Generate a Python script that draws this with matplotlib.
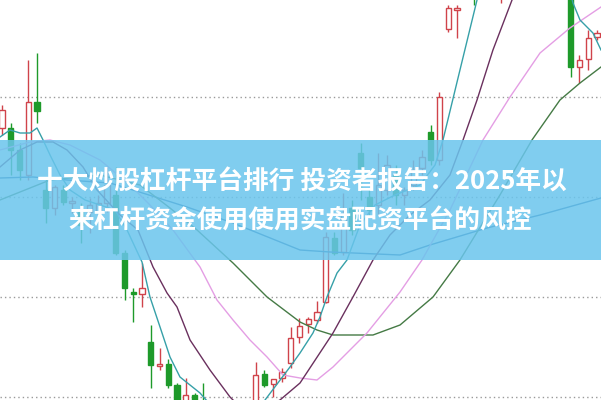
import matplotlib
matplotlib.use("Agg")
import matplotlib.pyplot as plt
import numpy as np
from matplotlib.patches import Rectangle

# ---- candle data (price units) ----
opens = [12.69, 12.69, 12.47, 12.22, 12.95, 12.07, 11.89, 12.07, 11.94, 11.85,
         11.85, 11.85, 11.94, 12.02, 11.44, 11.05, 11.03, 10.55, 10.31, 10.33,
         10.12, 9.77, 10.02, 9.89, 9.67, 9.47, 9.57, 9.42, 9.57, 9.72,
         10.23, 10.13, 10.19, 10.34, 10.60, 10.73, 10.77, 10.95, 11.59, 11.45,
         11.89, 12.44, 12.00, 11.92, 12.07, 12.22, 12.02, 12.12, 12.29, 12.65,
         12.37, 13.68, 13.87, 14.00, 14.25, 14.05, 14.30, 14.10, 14.40, 14.60,
         14.45, 14.65, 14.50, 14.60, 14.40, 14.25, 13.30, 13.38, 13.60]
closes = [12.87, 12.47, 12.27, 12.95, 12.86, 11.89, 12.10, 11.95, 11.96, 11.72,
          11.92, 11.94, 12.12, 11.44, 11.09, 11.03, 11.09, 10.32, 10.33, 10.12,
          9.85, 10.02, 9.85, 9.67, 9.52, 9.59, 9.42, 9.57, 9.72, 10.22,
          10.12, 10.18, 10.25, 10.59, 10.71, 10.78, 10.85, 11.60, 11.44, 11.82,
          11.67, 12.29, 11.87, 12.12, 12.32, 12.02, 12.07, 12.27, 12.40, 12.37,
          13.00, 13.89, 13.89, 14.20, 14.05, 14.30, 14.45, 14.40, 14.60, 14.45,
          14.65, 14.50, 14.60, 14.40, 14.25, 13.30, 13.37, 13.59, 13.64]
highs = [12.92, 12.74, 12.54, 13.37, 13.44, 12.20, 12.12, 12.12, 12.00, 11.94,
         11.99, 12.02, 12.30, 12.30, 11.47, 11.09, 11.34, 10.72, 10.49, 10.38,
         10.14, 10.19, 10.04, 10.14, 9.72, 9.67, 9.62, 9.65, 9.82, 10.35,
         10.27, 10.18, 10.29, 10.70, 10.79, 10.80, 10.96, 11.65, 11.65, 12.04,
         11.97, 12.54, 12.07, 12.44, 12.42, 12.32, 12.10, 12.37, 12.47, 12.72,
         13.05, 13.92, 13.92, 14.30, 14.35, 14.40, 14.55, 14.50, 14.70, 14.65,
         14.75, 14.70, 14.70, 14.65, 14.45, 14.30, 13.42, 13.67, 13.67]
lows = [12.62, 12.22, 12.17, 12.17, 12.74, 11.74, 11.82, 11.92, 11.84, 11.54,
        11.64, 11.77, 11.85, 11.42, 10.97, 10.75, 10.90, 10.09, 10.27, 10.09,
        9.77, 9.72, 9.77, 9.57, 9.42, 9.37, 9.32, 9.35, 9.47, 9.67,
        10.10, 10.00, 10.15, 10.29, 10.54, 10.64, 10.74, 10.94, 11.42, 11.42,
        11.62, 11.97, 11.82, 11.82, 12.02, 11.92, 11.92, 12.07, 12.22, 12.32,
        12.32, 13.65, 13.59, 13.98, 13.92, 14.00, 14.20, 13.94, 14.30, 14.35,
        14.40, 14.40, 14.45, 14.30, 14.15, 13.20, 13.14, 13.27, 13.57]

# ---- moving-average lines (candle index, price) ----
ma5_x = [-0.23, 0.91, 2.06, 3.2, 4.0, 4.69, 5.49, 6.63, 7.77, 9.49, 11.2, 12.91, 14.29,
         16.0, 16.91, 18.06, 19.2, 20.34, 22.63, 24.34, 26.63, 28.34, 30.06, 32.91,
         34.06, 35.54, 36.34, 37.14, 38.29, 39.43, 40.91, 42.63, 44.91, 47.77, 49.49,
         50.4, 52.34, 54.29, 55.77, 59.2, 62.63, 64.34, 65.26, 66.06, 67.54, 68.46]
ma5_y = [12.60, 12.67, 12.64, 12.64, 12.69, 12.57, 12.42, 12.22, 12.07, 11.97, 11.92, 11.87,
         11.67, 11.35, 11.00, 10.70, 10.40, 10.20, 10.04, 9.87, 9.67, 9.72, 9.97, 10.30,
         10.44, 10.64, 10.80, 11.00, 11.24, 11.37, 11.72, 11.92, 12.02, 12.12, 12.32,
         12.57, 13.27, 13.97, 14.57, 14.47, 14.47, 14.27, 13.94, 13.77, 13.64, 13.47]

ma10_x = [-0.23, 2.06, 4.0, 5.83, 7.43, 9.26, 10.86, 13.49, 15.54, 17.26, 18.86, 20.0,
          21.49, 23.77, 26.06, 27.77, 29.49, 31.77, 34.06, 37.83, 40.11, 42.4, 44.34,
          46.63, 48.91, 51.2, 52.69, 54.29, 56.11, 58.29, 61.49, 64.91, 68.46]
ma10_y = [12.30, 12.47, 12.55, 12.55, 12.47, 12.30, 12.07, 11.82, 11.67, 11.30, 11.04, 10.90,
          10.57, 10.27, 10.00, 9.85, 9.87, 9.97, 10.14, 10.64, 11.00, 11.37, 11.62,
          11.82, 11.97, 12.22, 12.57, 12.97, 13.47, 13.97, 14.57, 14.77, 14.57]

ma20_x = [-0.23, 3.2, 5.49, 7.77, 11.2, 14.63, 16.91, 19.54, 22.63, 24.57, 26.4, 28.34,
          30.29, 32.11, 34.06, 36.0, 37.83, 41.71, 45.49, 48.0, 51.2, 54.97, 58.06,
          61.49, 64.91, 68.46]
ma20_y = [12.47, 12.55, 12.57, 12.52, 12.37, 12.12, 11.92, 11.67, 11.30, 10.97, 10.77, 10.57,
          10.40, 10.22, 10.19, 10.17, 10.30, 10.64, 11.05, 11.37, 11.87, 12.57, 13.00,
          13.44, 13.69, 13.90]

ma60_x = [-0.23, 5.49, 11.2, 15.77, 19.2, 22.29, 26.4, 30.29, 34.06, 36.0, 37.83, 42.4,
          45.49, 49.26, 52.34, 56.91, 60.57, 63.77, 66.06, 68.46]
ma60_y = [11.97, 12.17, 12.22, 12.12, 11.89, 11.67, 11.34, 11.00, 10.75, 10.67, 10.62, 10.62,
          10.72, 11.00, 11.37, 12.02, 12.57, 12.97, 13.14, 13.30]

ma120_x = [-0.23, 3.54, 7.43, 12.34, 14.97, 21.14, 26.4, 34.06, 37.49, 45.49, 48.91,
           55.43, 61.49, 68.46]
ma120_y = [12.19, 12.20, 12.17, 12.14, 12.07, 11.90, 11.74, 11.47, 11.45, 11.42, 11.52,
           11.69, 11.82, 11.99]

grid_levels = [10, 11, 12, 13]

title_line1 = "十大炒股杠杆平台排行 投资者报告：2025年以"
title_line2 = "来杠杆资金使用使用实盘配资平台的风控"

RED = "#d0434b"
GREEN = "#1e9a2a"

fig = plt.figure(figsize=(6.01, 4.0), dpi=100)
ax = fig.add_axes([0, 0, 1, 1])
ax.set_xlim(-0.23, 68.46)
ax.set_ylim(9.97, 13.97)
ax.axis("off")

for g in grid_levels:
    ax.axhline(g, color="#9a9a9a", linestyle=(0, (1, 2.2)), linewidth=1.0, zorder=1)

o = np.array(opens); c = np.array(closes); h = np.array(highs); l = np.array(lows)
idx = np.arange(len(o))
up = c >= o
cols = np.where(up, RED, GREEN)
ax.vlines(idx, l, h, colors=cols, linewidth=1.0, zorder=2)
heights = np.maximum(np.abs(c - o), 0.015)
ax.bar(idx, heights, bottom=np.minimum(o, c), width=0.62,
       color=np.where(up, "white", GREEN), edgecolor=cols, linewidth=1.0, zorder=3)

ax.plot(ma120_x, ma120_y, color="#1f5c9a", lw=1.0, zorder=4)
ax.plot(ma60_x, ma60_y, color="#457a45", lw=1.0, zorder=4)
ax.plot(ma20_x, ma20_y, color="#e49ee4", lw=1.0, zorder=4)
ax.plot(ma10_x, ma10_y, color="#6a305e", lw=1.0, zorder=4)
ax.plot(ma5_x, ma5_y, color="#36a0a8", lw=1.0, zorder=4)

ax.add_patch(Rectangle((0, 0.35), 1, 0.30, transform=ax.transAxes,
                       facecolor="#6ac5ed", alpha=0.85, edgecolor="none", zorder=5))

fam = ["Noto Sans CJK SC", "DejaVu Sans"]
fig.text(302 / 601, 1 - 182 / 400, title_line1, ha="center", va="center",
         fontsize=18.5, fontweight="bold", color="white", family=fam, zorder=6)
fig.text(300 / 601, 1 - 221 / 400, title_line2, ha="center", va="center",
         fontsize=18.5, fontweight="bold", color="white", family=fam, zorder=6)

fig.savefig("out.png", dpi=100)
